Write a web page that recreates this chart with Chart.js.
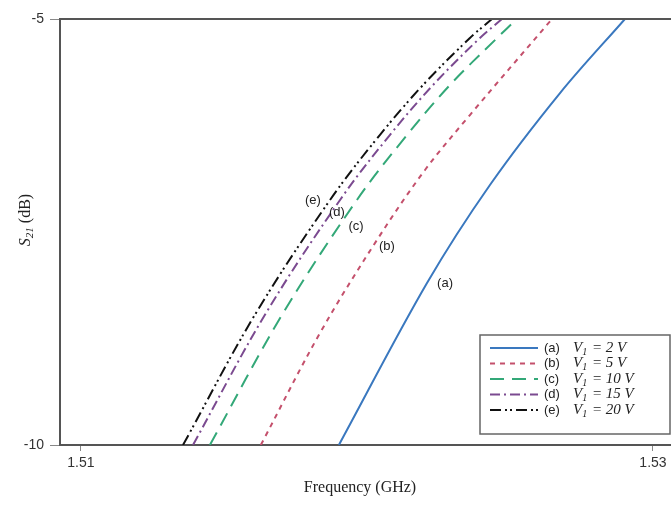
<!DOCTYPE html>
<html>
<head>
  <meta charset="UTF-8" />
  <title>S21 vs Frequency</title>
  <script src="https://cdn.jsdelivr.net/npm/chart.js"></script>
  <style>
    body { margin: 0; background: #fff; overflow: hidden; }
    #wrap { width: 671px; height: 506px; position: relative; }
  </style>
</head>
<body>
  <div id="wrap"><canvas id="s21Chart"></canvas></div>

  <script>
    // curve tags and bias voltages
    const curveTags = ['(a)', '(b)', '(c)', '(d)', '(e)'];
    const biasVolts = [2, 5, 10, 15, 20];

    // frequency (GHz) / S21 (dB) samples per bias voltage
    const freqA = [1.51902, 1.52210, 1.52430, 1.52675, 1.52902];
    const s21A  = [-10, -8.099, -6.948, -5.869, -5.0];
    const freqB = [1.51629, 1.51836, 1.52035, 1.52203, 1.52360, 1.52647];
    const s21B  = [-10, -8.685, -7.594, -6.772, -6.127, -5.0];
    const freqC = [1.51451, 1.51703, 1.51965, 1.52140, 1.52290, 1.52455, 1.52524];
    const s21C  = [-10, -8.474, -7.124, -6.362, -5.775, -5.223, -5.0];
    const freqD = [1.51392, 1.51643, 1.51906, 1.52080, 1.52231, 1.52395, 1.52472];
    const s21D  = [-10, -8.474, -7.124, -6.362, -5.775, -5.223, -5.0];
    const freqE = [1.51357, 1.51608, 1.51871, 1.52045, 1.52196, 1.52360, 1.52437];
    const s21E  = [-10, -8.474, -7.124, -6.362, -5.775, -5.223, -5.0];

    // axis ticks
    const freqTicks = [1.51, 1.53];
    const s21Ticks = [-10, -5];

    // where each curve tag is written (GHz, dB)
    const tagFreq = [1.52273, 1.52070, 1.51962, 1.51895, 1.51811];
    const tagS21  = [-8.099, -7.664, -7.430, -7.265, -7.124];

    const curveStyles = [
      { color: '#3a78bf', dash: [], width: 2 },
      { color: '#c4506c', dash: [5, 5], width: 2 },
      { color: '#33a878', dash: [14, 8], width: 2 },
      { color: '#7b4a90', dash: [10, 4, 2, 4], width: 2 },
      { color: '#111111', dash: [11, 4, 2, 3, 2, 4], width: 2 }
    ];

    const freqs = [freqA, freqB, freqC, freqD, freqE];
    const s21s = [s21A, s21B, s21C, s21D, s21E];

    const datasets = freqs.map((fx, i) => ({
      label: curveTags[i],
      data: fx.map((f, j) => ({ x: f, y: s21s[i][j] })),
      borderColor: curveStyles[i].color,
      borderDash: curveStyles[i].dash,
      borderWidth: curveStyles[i].width,
      showLine: true,
      pointRadius: 0,
      tension: 0.35,
      fill: false
    }));

    const SERIF = '"Liberation Serif", "Times New Roman", serif';
    const SANS = '"Liberation Sans", Arial, sans-serif';

    const extras = {
      id: 'extras',
      afterDatasetsDraw(chart) {
        const { ctx, chartArea: ca, scales } = chart;
        const xs = scales.x, ys = scales.y;
        ctx.save();

        // top frame line
        ctx.strokeStyle = '#555';
        ctx.lineWidth = 2;
        ctx.beginPath();
        ctx.moveTo(ca.left - 1, ca.top);
        ctx.lineTo(ca.right, ca.top);
        ctx.stroke();

        // curve tags
        ctx.fillStyle = '#222';
        ctx.font = '13px ' + SANS;
        ctx.textAlign = 'center';
        ctx.textBaseline = 'middle';
        curveTags.forEach((t, i) => {
          ctx.fillText(t, xs.getPixelForValue(tagFreq[i]), ys.getPixelForValue(tagS21[i]));
        });

        // legend
        const bx = 480, by = 335, bw = 190, bh = 99;
        ctx.fillStyle = '#fff';
        ctx.fillRect(bx, by, bw, bh);
        ctx.strokeStyle = '#666';
        ctx.lineWidth = 1.5;
        ctx.strokeRect(bx, by, bw, bh);
        chart.data.datasets.forEach((ds, i) => {
          const ry = by + 13 + i * 15.5;
          ctx.strokeStyle = ds.borderColor;
          ctx.lineWidth = ds.borderWidth;
          ctx.setLineDash(ds.borderDash);
          ctx.beginPath();
          ctx.moveTo(bx + 10, ry);
          ctx.lineTo(bx + 58, ry);
          ctx.stroke();
          ctx.setLineDash([]);
          ctx.fillStyle = '#222';
          ctx.textAlign = 'left';
          ctx.textBaseline = 'middle';
          ctx.font = '13px ' + SANS;
          ctx.fillText(ds.label, bx + 64, ry);
          let tx = bx + 93;
          ctx.font = 'italic 15px ' + SERIF;
          ctx.fillText('V', tx, ry);
          tx += ctx.measureText('V').width;
          ctx.font = 'italic 10px ' + SERIF;
          ctx.fillText('1', tx, ry + 4);
          tx += ctx.measureText('1').width + 1;
          ctx.font = 'italic 15px ' + SERIF;
          ctx.fillText(' = ' + biasVolts[i] + ' V', tx, ry);
        });

        // x axis title
        ctx.fillStyle = '#222';
        ctx.font = '16px ' + SERIF;
        ctx.textAlign = 'center';
        ctx.textBaseline = 'middle';
        ctx.fillText('Frequency (GHz)', 360, 488);

        // y axis title, rotated
        ctx.translate(26, 220);
        ctx.rotate(-Math.PI / 2);
        const parts = [
          { t: 'S', f: 'italic 16px ' + SERIF, dy: 0 },
          { t: '21', f: 'italic 11px ' + SERIF, dy: 4 },
          { t: ' (dB)', f: '16px ' + SERIF, dy: 0 }
        ];
        let total = 0;
        parts.forEach(p => { ctx.font = p.f; total += ctx.measureText(p.t).width; });
        let px = -total / 2;
        ctx.textAlign = 'left';
        parts.forEach(p => {
          ctx.font = p.f;
          ctx.fillText(p.t, px, p.dy);
          px += ctx.measureText(p.t).width;
        });

        ctx.restore();
      }
    };

    new Chart(document.getElementById('s21Chart'), {
      type: 'scatter',
      data: { datasets },
      options: {
        animation: false,
        responsive: true,
        maintainAspectRatio: false,
        layout: { padding: { top: 19, right: 0, left: 0, bottom: 0 } },
        plugins: {
          legend: { display: false },
          tooltip: { enabled: false }
        },
        scales: {
          x: {
            type: 'linear',
            min: 1.50927,
            max: 1.53063,
            afterBuildTicks: s => { s.ticks = freqTicks.map(v => ({ value: v })); },
            afterFit: s => { s.height = 61; },
            ticks: {
              color: '#333',
              font: { family: SANS, size: 14 },
              padding: 4,
              maxRotation: 0,
              callback: v => v.toFixed(2)
            },
            grid: { drawOnChartArea: false, tickLength: 6, color: '#888' },
            border: { color: '#555', width: 2 }
          },
          y: {
            min: -10,
            max: -5,
            afterBuildTicks: s => { s.ticks = s21Ticks.map(v => ({ value: v })); },
            afterFit: s => { s.width = 60; },
            ticks: {
              color: '#333',
              font: { family: SANS, size: 14 },
              padding: 6,
              callback: v => String(v)
            },
            grid: { drawOnChartArea: false, tickLength: 10, color: '#888' },
            border: { color: '#555', width: 2 }
          }
        }
      },
      plugins: [extras]
    });
  </script>
</body>
</html>
